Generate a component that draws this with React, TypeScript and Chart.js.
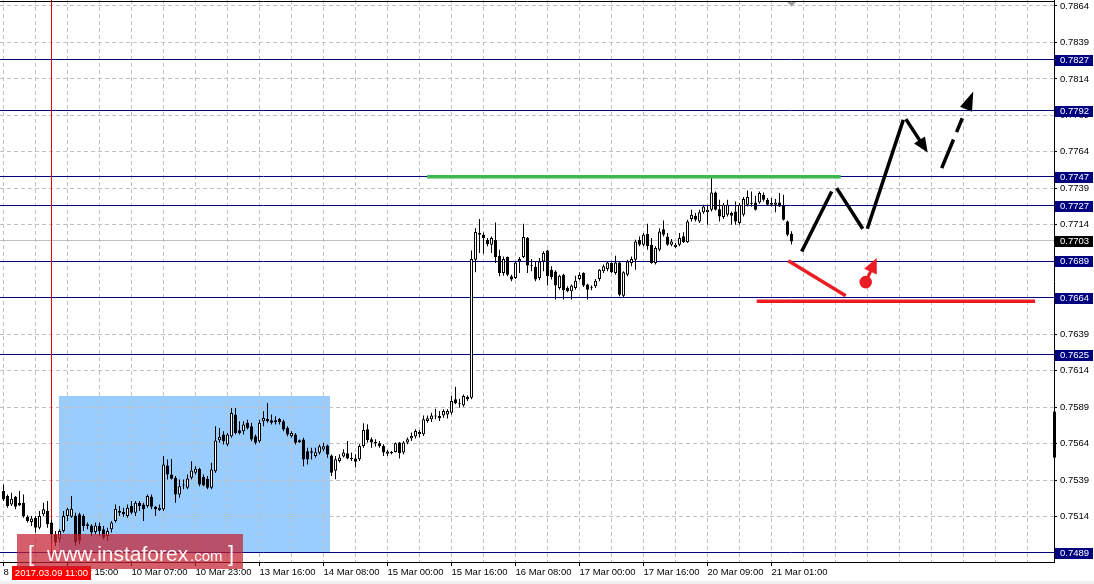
import React, { useEffect, useRef } from 'react';
import { Chart, registerables } from 'chart.js';

Chart.register(...registerables);

// ---- candle data (H1 bars, index 0 = 8 Mar 23:00) ----
const opens = [
  0.75314, 0.75280, 0.75223, 0.75275, 0.75234, 0.75234, 0.75139, 0.75102, 0.75132, 0.75063,
  0.75155, 0.75177, 0.75098, 0.75018, 0.74984, 0.75041, 0.75143, 0.75139, 0.75143, 0.75155,
  0.75143, 0.75075, 0.75079, 0.75034, 0.75075, 0.75052, 0.75007, 0.75052, 0.75109, 0.75166,
  0.75171, 0.75143, 0.75212, 0.75166, 0.75234, 0.75223, 0.75212, 0.75275, 0.75207, 0.75184,
  0.75189, 0.75490, 0.75428, 0.75405, 0.75291, 0.75353, 0.75337, 0.75405, 0.75440, 0.75467,
  0.75410, 0.75399, 0.75337, 0.75451, 0.75663, 0.75702, 0.75633, 0.75690, 0.75839, 0.75731,
  0.75725, 0.75782, 0.75759, 0.75690, 0.75656, 0.75793, 0.75809, 0.75800, 0.75786, 0.75809,
  0.75793, 0.75747, 0.75690, 0.75702, 0.75663, 0.75668, 0.75588, 0.75577, 0.75554, 0.75577,
  0.75599, 0.75627, 0.75558, 0.75453, 0.75521, 0.75551, 0.75574, 0.75533, 0.75537, 0.75533,
  0.75624, 0.75738, 0.75670, 0.75640, 0.75642, 0.75624, 0.75571, 0.75583, 0.75583, 0.75647,
  0.75578, 0.75647, 0.75674, 0.75688, 0.75704, 0.75704, 0.75795, 0.75806, 0.75833, 0.75829,
  0.75833, 0.75840, 0.75852, 0.75943, 0.75916, 0.75902, 0.75961, 0.75954, 0.76901, 0.77083,
  0.77072, 0.77037, 0.77003, 0.77037, 0.76928, 0.76809, 0.76919, 0.76787, 0.76775, 0.76889,
  0.76919, 0.77049, 0.76860, 0.76850, 0.76775, 0.76889, 0.76964, 0.76832, 0.76819, 0.76707,
  0.76798, 0.76707, 0.76684, 0.76707, 0.76768, 0.76809, 0.76730, 0.76711, 0.76718, 0.76768,
  0.76821, 0.76837, 0.76878, 0.76809, 0.76882, 0.76654, 0.76798, 0.76878, 0.76901, 0.77037,
  0.77003, 0.77078, 0.77003, 0.76878, 0.76969, 0.77110, 0.77060, 0.77003, 0.76987, 0.77003,
  0.77061, 0.77020, 0.77179, 0.77202, 0.77163, 0.77225, 0.77225, 0.77243, 0.77362, 0.77247,
  0.77193, 0.77209, 0.77220, 0.77231, 0.77152, 0.77209, 0.77277, 0.77293, 0.77293, 0.77293,
  0.77346, 0.77311, 0.77277, 0.77277, 0.77293, 0.77270, 0.77163, 0.77079,
];
const highs = [
  0.75360, 0.75291, 0.75303, 0.75280, 0.75314, 0.75291, 0.75148, 0.75143, 0.75143, 0.75177,
  0.75234, 0.75246, 0.75120, 0.75041, 0.75052, 0.75177, 0.75200, 0.75280, 0.75166, 0.75166,
  0.75155, 0.75098, 0.75086, 0.75098, 0.75098, 0.75075, 0.75063, 0.75109, 0.75223, 0.75212,
  0.75200, 0.75223, 0.75246, 0.75246, 0.75246, 0.75234, 0.75291, 0.75291, 0.75212, 0.75223,
  0.75554, 0.75531, 0.75535, 0.75417, 0.75394, 0.75394, 0.75428, 0.75519, 0.75485, 0.75474,
  0.75428, 0.75417, 0.75508, 0.75759, 0.75747, 0.75725, 0.75713, 0.75884, 0.75884, 0.75793,
  0.75793, 0.75804, 0.75782, 0.75702, 0.75804, 0.75861, 0.75918, 0.75839, 0.75827, 0.75816,
  0.75804, 0.75759, 0.75725, 0.75713, 0.75668, 0.75679, 0.75611, 0.75611, 0.75611, 0.75633,
  0.75645, 0.75633, 0.75565, 0.75555, 0.75567, 0.75601, 0.75658, 0.75578, 0.75567, 0.75635,
  0.75779, 0.75772, 0.75681, 0.75670, 0.75658, 0.75635, 0.75596, 0.75589, 0.75647, 0.75651,
  0.75658, 0.75681, 0.75715, 0.75738, 0.75731, 0.75833, 0.75833, 0.75852, 0.75879, 0.75863,
  0.75875, 0.75875, 0.75966, 0.76030, 0.75948, 0.75977, 0.75970, 0.76964, 0.77117, 0.77179,
  0.77087, 0.77049, 0.77060, 0.77156, 0.76969, 0.76923, 0.76923, 0.76798, 0.76889, 0.76919,
  0.77147, 0.77056, 0.76905, 0.76889, 0.76912, 0.76958, 0.76969, 0.76855, 0.76828, 0.76798,
  0.76805, 0.76718, 0.76730, 0.76791, 0.76814, 0.76814, 0.76736, 0.76723, 0.76768, 0.76837,
  0.76867, 0.76889, 0.76882, 0.76928, 0.76889, 0.76821, 0.76901, 0.76923, 0.77037, 0.77060,
  0.77083, 0.77147, 0.77049, 0.76992, 0.77117, 0.77170, 0.77083, 0.77042, 0.77015, 0.77083,
  0.77088, 0.77175, 0.77243, 0.77220, 0.77243, 0.77277, 0.77277, 0.77470, 0.77368, 0.77311,
  0.77289, 0.77311, 0.77231, 0.77300, 0.77289, 0.77330, 0.77375, 0.77368, 0.77339, 0.77368,
  0.77362, 0.77323, 0.77323, 0.77316, 0.77357, 0.77346, 0.77170, 0.77095,
];
const lows = [
  0.75246, 0.75200, 0.75212, 0.75189, 0.75212, 0.75132, 0.75098, 0.75075, 0.75030, 0.75052,
  0.75143, 0.75063, 0.74984, 0.74938, 0.74961, 0.75030, 0.75109, 0.75132, 0.74938, 0.74950,
  0.75041, 0.75052, 0.75007, 0.75018, 0.75007, 0.74984, 0.74973, 0.75030, 0.75098, 0.75143,
  0.75139, 0.75132, 0.75155, 0.75143, 0.75177, 0.75109, 0.75200, 0.75189, 0.75143, 0.75177,
  0.75177, 0.75394, 0.75394, 0.75234, 0.75269, 0.75326, 0.75326, 0.75394, 0.75428, 0.75348,
  0.75348, 0.75326, 0.75326, 0.75440, 0.75645, 0.75633, 0.75622, 0.75679, 0.75702, 0.75702,
  0.75702, 0.75736, 0.75656, 0.75633, 0.75645, 0.75759, 0.75782, 0.75770, 0.75770, 0.75770,
  0.75725, 0.75690, 0.75679, 0.75633, 0.75645, 0.75485, 0.75497, 0.75531, 0.75542, 0.75565,
  0.75588, 0.75542, 0.75417, 0.75396, 0.75510, 0.75544, 0.75533, 0.75521, 0.75476, 0.75521,
  0.75612, 0.75647, 0.75612, 0.75619, 0.75612, 0.75555, 0.75555, 0.75567, 0.75578, 0.75537,
  0.75567, 0.75635, 0.75658, 0.75674, 0.75681, 0.75692, 0.75783, 0.75788, 0.75806, 0.75795,
  0.75817, 0.75811, 0.75840, 0.75909, 0.75886, 0.75893, 0.75932, 0.75943, 0.76814, 0.76946,
  0.76942, 0.76992, 0.76946, 0.76878, 0.76787, 0.76791, 0.76787, 0.76752, 0.76768, 0.76809,
  0.76912, 0.76809, 0.76821, 0.76752, 0.76759, 0.76821, 0.76723, 0.76764, 0.76627, 0.76695,
  0.76627, 0.76677, 0.76627, 0.76695, 0.76759, 0.76714, 0.76627, 0.76691, 0.76707, 0.76752,
  0.76809, 0.76821, 0.76809, 0.76798, 0.76650, 0.76645, 0.76787, 0.76855, 0.76832, 0.76992,
  0.76992, 0.76969, 0.76873, 0.76867, 0.76958, 0.77060, 0.76996, 0.76992, 0.76980, 0.76992,
  0.77015, 0.77015, 0.77163, 0.77163, 0.77152, 0.77216, 0.77140, 0.77231, 0.77238, 0.77163,
  0.77179, 0.77197, 0.77140, 0.77140, 0.77140, 0.77197, 0.77266, 0.77266, 0.77238, 0.77284,
  0.77300, 0.77270, 0.77266, 0.77225, 0.77261, 0.77170, 0.77061, 0.77004,
];
const closes = [
  0.75257, 0.75212, 0.75262, 0.75207, 0.75216, 0.75143, 0.75109, 0.75127, 0.75063, 0.75143,
  0.75189, 0.75086, 0.75018, 0.74961, 0.75041, 0.75143, 0.75189, 0.75193, 0.74961, 0.74973,
  0.75075, 0.75086, 0.75030, 0.75079, 0.75041, 0.74995, 0.75041, 0.75098, 0.75193, 0.75177,
  0.75155, 0.75200, 0.75166, 0.75234, 0.75212, 0.75189, 0.75280, 0.75207, 0.75189, 0.75200,
  0.75497, 0.75428, 0.75399, 0.75291, 0.75348, 0.75360, 0.75401, 0.75456, 0.75467, 0.75360,
  0.75353, 0.75337, 0.75462, 0.75661, 0.75686, 0.75656, 0.75702, 0.75850, 0.75713, 0.75713,
  0.75770, 0.75747, 0.75668, 0.75645, 0.75782, 0.75816, 0.75793, 0.75782, 0.75800, 0.75786,
  0.75736, 0.75702, 0.75713, 0.75645, 0.75649, 0.75531, 0.75531, 0.75588, 0.75581, 0.75622,
  0.75622, 0.75565, 0.75440, 0.75533, 0.75544, 0.75578, 0.75537, 0.75542, 0.75515, 0.75624,
  0.75733, 0.75665, 0.75647, 0.75653, 0.75624, 0.75578, 0.75585, 0.75574, 0.75642, 0.75574,
  0.75647, 0.75670, 0.75692, 0.75726, 0.75720, 0.75806, 0.75813, 0.75833, 0.75825, 0.75813,
  0.75863, 0.75863, 0.75932, 0.75916, 0.75909, 0.75966, 0.75943, 0.76905, 0.77090, 0.77072,
  0.77049, 0.77008, 0.77049, 0.76919, 0.76809, 0.76905, 0.76798, 0.76764, 0.76882, 0.76905,
  0.77056, 0.76860, 0.76855, 0.76764, 0.76889, 0.76946, 0.76787, 0.76782, 0.76723, 0.76791,
  0.76691, 0.76684, 0.76723, 0.76757, 0.76796, 0.76723, 0.76695, 0.76704, 0.76757, 0.76832,
  0.76855, 0.76882, 0.76814, 0.76882, 0.76661, 0.76814, 0.76889, 0.76905, 0.77026, 0.77003,
  0.77072, 0.76992, 0.76878, 0.76980, 0.77094, 0.77072, 0.77003, 0.77026, 0.77003, 0.77049,
  0.77020, 0.77163, 0.77209, 0.77175, 0.77225, 0.77266, 0.77243, 0.77362, 0.77243, 0.77197,
  0.77277, 0.77277, 0.77202, 0.77163, 0.77277, 0.77316, 0.77330, 0.77284, 0.77243, 0.77357,
  0.77311, 0.77277, 0.77289, 0.77293, 0.77266, 0.77175, 0.77072, 0.77026,
];

// ---- axes ----
const timeLabels = [
  '8 Mar 23:00', '9 Mar 15:00', '10 Mar 07:00', '10 Mar 23:00', '13 Mar 16:00', '14 Mar 08:00',
  '15 Mar 00:00', '15 Mar 16:00', '16 Mar 08:00', '17 Mar 00:00', '17 Mar 16:00', '20 Mar 09:00',
  '21 Mar 01:00',
];
const barsPerLabel = 16;
const barsPerGrid = 8;
const priceTicks = [
  0.7489, 0.7514, 0.7539, 0.7564, 0.7589, 0.7614, 0.7639, 0.7664,
  0.7689, 0.7714, 0.7739, 0.7764, 0.7789, 0.7814, 0.7839, 0.7864,
];
const priceMin = 0.74828;
const priceMax = 0.78681;
const xMin = -0.875;
const xMax = 262.625;

// ---- chart objects ----
const levels = [0.7827, 0.7792, 0.7747, 0.7727, 0.7689, 0.7664, 0.7625, 0.7489];
const bidPrice = 0.7703;
const markedBar = 12;
const markedLabel = '2017.03.09 11:00';
const zoneRect = [13.875, 81.625, 0.74887, 0.75969]; // x1, x2, pLow, pHigh
const greenLevel = [105.9, 209.3, 0.7747];
const redLevel = [188.3, 257.9, 0.76615];
const redDiagonal = [196.2, 0.76893, 210.55, 0.76654];
const redDotArrow = [215.55, 0.76747, 218.3, 0.76912];
const forecastSegments = [
  [199.55, 0.76957, 207.05, 0.77368],
  [208.3, 0.77391, 214.8, 0.77113],
  [215.95, 0.77113, 224.95, 0.77859],
];
const forecastArrow = [225.6, 0.77864, 231.05, 0.77635];
const forecastDashedArrow = [234.55, 0.77528, 242.45, 0.78053];
const axisMarker = [0.75544, 0.75859];

const FONT = 'Liberation Sans';

function drawArrow(ctx: CanvasRenderingContext2D, x1: number, y1: number, x2: number, y2: number, headLen: number, headW: number, lw: number, color: string, dash: number[] = []) {
  const a = Math.atan2(y2 - y1, x2 - x1);
  const bx = x2 - headLen * Math.cos(a);
  const by = y2 - headLen * Math.sin(a);
  ctx.save();
  ctx.strokeStyle = color;
  ctx.fillStyle = color;
  ctx.lineWidth = lw;
  ctx.lineCap = 'butt';
  ctx.setLineDash(dash);
  ctx.beginPath();
  ctx.moveTo(x1, y1);
  ctx.lineTo(bx + Math.cos(a), by + Math.sin(a));
  ctx.stroke();
  ctx.setLineDash([]);
  ctx.beginPath();
  ctx.moveTo(x2, y2);
  ctx.lineTo(bx + (headW / 2) * Math.sin(a), by - (headW / 2) * Math.cos(a));
  ctx.lineTo(bx - (headW / 2) * Math.sin(a), by + (headW / 2) * Math.cos(a));
  ctx.closePath();
  ctx.fill();
  ctx.restore();
}

export default function App() {
  const ref = useRef<HTMLCanvasElement>(null);

  useEffect(() => {
    const canvas = ref.current;
    if (!canvas) return;

    const X = (c: any, v: number) => c.scales.x.getPixelForValue(v);
    const Y = (c: any, v: number) => c.scales.y.getPixelForValue(v);

    const overlay = {
      id: 'overlay',
      beforeDraw(chart: any) {
        const ctx = chart.ctx;
        ctx.save();
        ctx.fillStyle = '#ffffff';
        ctx.fillRect(0, 0, chart.width, chart.height);
        const [x1, x2, pl, ph] = zoneRect;
        ctx.fillStyle = '#99ccff';
        const left = Math.round(X(chart, x1));
        const right = Math.round(X(chart, x2));
        const top = Math.round(Y(chart, ph));
        const bot = Math.round(Y(chart, pl));
        ctx.fillRect(left, top, right - left, bot - top);
        ctx.restore();
      },
      beforeDatasetsDraw(chart: any) {
        const ctx = chart.ctx;
        const ca = chart.chartArea;
        ctx.save();
        ctx.lineWidth = 1;
        // bid line
        ctx.strokeStyle = '#c0c0c0';
        let y = Math.floor(Y(chart, bidPrice)) + 0.5;
        ctx.beginPath(); ctx.moveTo(ca.left, y); ctx.lineTo(ca.right, y); ctx.stroke();
        // navy levels
        ctx.strokeStyle = '#000080';
        levels.forEach((p) => {
          const yy = Math.floor(Y(chart, p)) + 0.5;
          ctx.beginPath(); ctx.moveTo(ca.left, yy); ctx.lineTo(ca.right, yy); ctx.stroke();
        });
        // red vertical line
        ctx.strokeStyle = '#dd0000';
        const vx = Math.floor(X(chart, markedBar)) + 0.5;
        ctx.beginPath(); ctx.moveTo(vx, ca.top); ctx.lineTo(vx, ca.bottom); ctx.stroke();
        ctx.restore();
      },
      afterDatasetsDraw(chart: any) {
        const ctx = chart.ctx;
        ctx.save();
        ctx.lineCap = 'butt';
        // green level
        ctx.strokeStyle = '#3dba4e';
        ctx.lineWidth = 3.5;
        let y = Y(chart, greenLevel[2]);
        ctx.beginPath(); ctx.moveTo(X(chart, greenLevel[0]), y); ctx.lineTo(X(chart, greenLevel[1]), y); ctx.stroke();
        // red horizontal
        ctx.strokeStyle = '#ec1c24';
        y = Y(chart, redLevel[2]);
        ctx.beginPath(); ctx.moveTo(X(chart, redLevel[0]), y); ctx.lineTo(X(chart, redLevel[1]), y); ctx.stroke();
        // red diagonal
        ctx.lineWidth = 3.5;
        ctx.beginPath();
        ctx.moveTo(X(chart, redDiagonal[0]), Y(chart, redDiagonal[1]));
        ctx.lineTo(X(chart, redDiagonal[2]), Y(chart, redDiagonal[3]));
        ctx.stroke();
        // red dot + arrow
        const dx = X(chart, redDotArrow[0]);
        const dy = Y(chart, redDotArrow[1]);
        drawArrow(ctx, dx, dy, X(chart, redDotArrow[2]), Y(chart, redDotArrow[3]), 15, 14, 3, '#ec1c24');
        ctx.fillStyle = '#ec1c24';
        ctx.beginPath(); ctx.arc(dx, dy, 6.3, 0, Math.PI * 2); ctx.fill();
        // black forecast path
        ctx.strokeStyle = '#000';
        ctx.lineWidth = 3.5;
        forecastSegments.forEach((s) => {
          ctx.beginPath();
          ctx.moveTo(X(chart, s[0]), Y(chart, s[1]));
          ctx.lineTo(X(chart, s[2]), Y(chart, s[3]));
          ctx.stroke();
        });
        const a = forecastArrow;
        drawArrow(ctx, X(chart, a[0]), Y(chart, a[1]), X(chart, a[2]), Y(chart, a[3]), 15, 13, 3.5, '#000');
        const d = forecastDashedArrow;
        drawArrow(ctx, X(chart, d[0]), Y(chart, d[1]), X(chart, d[2]), Y(chart, d[3]), 19, 13, 3.5, '#000', [31, 8, 15, 30]);
        ctx.restore();
      },
      afterDraw(chart: any) {
        const ctx = chart.ctx;
        const ca = chart.chartArea;
        ctx.save();
        // top frame line
        ctx.strokeStyle = '#000';
        ctx.lineWidth = 1;
        ctx.beginPath(); ctx.moveTo(0, 1.5); ctx.lineTo(ca.right + 1, 1.5); ctx.stroke();
        // marker of last bar at top
        const lx = X(chart, opens.length - 1);
        ctx.fillStyle = '#a0a0a0';
        ctx.beginPath(); ctx.moveTo(lx - 4.5, 2); ctx.lineTo(lx + 4.5, 2); ctx.lineTo(lx, 6.5); ctx.closePath(); ctx.fill();
        // axis marker
        ctx.fillStyle = '#000';
        const my1 = Y(chart, axisMarker[1]);
        const my2 = Y(chart, axisMarker[0]);
        ctx.fillRect(ca.right - 1, my1, 3, my2 - my1);
        // level labels
        ctx.font = `9.5px ${FONT}`;
        ctx.textBaseline = 'middle';
        ctx.textAlign = 'left';
        const box = (p: number, bg: string) => {
          const yy = Math.round(Y(chart, p));
          ctx.fillStyle = bg;
          ctx.fillRect(ca.right + 1, yy - 5, 38, 11);
          ctx.fillStyle = '#fff';
          ctx.fillText(p.toFixed(4), ca.right + 6, yy + 0.5);
        };
        levels.forEach((p) => box(p, '#000080'));
        box(bidPrice, '#000000');
        // marked time label
        const mx = X(chart, markedBar);
        const tw = ctx.measureText(markedLabel).width;
        ctx.fillStyle = '#ff0000';
        ctx.fillRect(Math.round(mx - tw / 2 - 3), 566, Math.round(tw + 6), 14);
        ctx.fillStyle = '#fff';
        ctx.textAlign = 'center';
        ctx.fillText(markedLabel, mx, 573.5);
        // bottom strip
        ctx.fillStyle = '#f0f0f0';
        ctx.fillRect(0, 581, chart.width, 3);
        // watermark
        ctx.fillStyle = 'rgba(196, 32, 48, 0.72)';
        ctx.fillRect(17, 534, 226, 35);
        ctx.fillStyle = 'rgba(255,255,255,0.95)';
        ctx.textAlign = 'left';
        ctx.textBaseline = 'alphabetic';
        ctx.font = `22px ${FONT}`;
        ctx.fillText('[', 28, 561);
        ctx.font = `21px ${FONT}`;
        ctx.fillText('www.instaforex', 47, 561);
        ctx.font = `15px ${FONT}`;
        ctx.fillText('.com', 190, 561);
        ctx.font = `22px ${FONT}`;
        ctx.fillText(']', 228, 561);
        ctx.restore();
      },
    };

    const wickData = opens.map((_, i) => ({ x: i, y: [lows[i], highs[i]] }));
    const bodyData = opens.map((o, i) => ({ x: i, y: [o, closes[i]] }));
    const bodyColors = opens.map((o, i) => (closes[i] >= o ? '#ffffff' : '#000000'));

    const chart = new Chart(canvas, {
      type: 'bar',
      data: {
        datasets: [
          {
            label: 'wick',
            data: wickData as any,
            backgroundColor: '#000',
            borderWidth: 0,
            barThickness: 1,
            grouped: false,
            inflateAmount: 0,
            order: 2,
          } as any,
          {
            label: 'body',
            data: bodyData as any,
            backgroundColor: bodyColors,
            borderColor: '#000',
            borderWidth: 1,
            borderSkipped: false,
            barThickness: 3,
            grouped: false,
            inflateAmount: 0,
            minBarLength: 1,
            order: 1,
          } as any,
        ],
      },
      options: {
        animation: false,
        responsive: true,
        maintainAspectRatio: false,
        devicePixelRatio: 1,
        events: [],
        layout: { padding: 0 },
        plugins: { legend: { display: false }, tooltip: { enabled: false }, title: { display: false } },
        scales: {
          x: {
            type: 'linear',
            min: xMin,
            max: xMax,
            offset: false,
            afterBuildTicks: (s: any) => {
              const t = [];
              for (let v = 0; v <= s.max; v += barsPerGrid) t.push({ value: v });
              s.ticks = t;
            },
            afterFit: (s: any) => {
              s.height = 22;
              s.paddingLeft = 0;
              s.paddingRight = 0;
            },
            grid: {
              color: '#c0c0c0',
              lineWidth: 1,
              tickLength: 4,
              tickColor: (c: any) => {
                const v = c.tick ? c.tick.value : -1;
                return v % barsPerLabel === 0 && v / barsPerLabel < timeLabels.length ? '#000' : 'rgba(0,0,0,0)';
              },
              offset: false,
            },
            border: { display: true, color: '#000', width: 1, dash: [4, 3] },
            ticks: {
              autoSkip: false,
              maxRotation: 0,
              minRotation: 0,
              align: 'start',
              padding: 1,
              color: '#000',
              font: { family: FONT, size: 9.5 },
              callback: (value: any) => {
                const v = Number(value);
                if (v % barsPerLabel === 0) {
                  const k = v / barsPerLabel;
                  return timeLabels[k] ?? '';
                }
                return '';
              },
            },
          },
          y: {
            type: 'linear',
            position: 'right',
            min: priceMin,
            max: priceMax,
            afterBuildTicks: (s: any) => {
              s.ticks = priceTicks.map((v) => ({ value: v }));
            },
            afterFit: (s: any) => {
              s.width = 40;
              s.paddingTop = 0;
              s.paddingBottom = 0;
            },
            grid: { color: '#c0c0c0', lineWidth: 1, tickLength: 3, tickColor: '#000' },
            border: { display: true, color: '#000', width: 1, dash: [4, 3] },
            ticks: {
              padding: 3,
              color: '#000',
              font: { family: FONT, size: 9.5, lineHeight: 1 },
              callback: (value: any) => Number(value).toFixed(4),
            },
          },
        },
      } as any,
      plugins: [overlay],
    });

    return () => chart.destroy();
  }, []);

  return (
    <div style={{ position: 'absolute', left: 0, top: 0, width: 1094, height: 584, background: '#fff' }}>
      <canvas ref={ref} />
    </div>
  );
}
